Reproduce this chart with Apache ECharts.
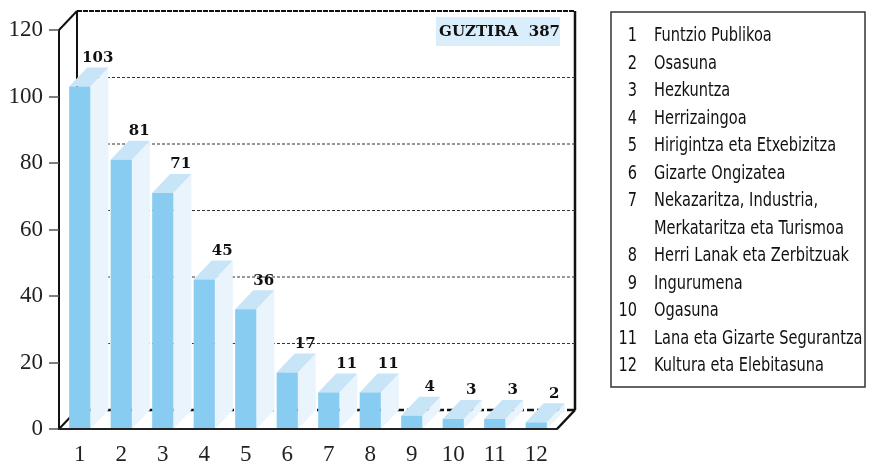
<!DOCTYPE html>
<html>
<head>
<meta charset="utf-8">
<script src="https://cdn.jsdelivr.net/npm/echarts@6/dist/echarts.min.js"></script>
<style>
  html, body { margin: 0; padding: 0; background: #fff; }
  #chart { width: 870px; height: 466px; }
</style>
</head>
<body>
<div id="chart"></div>
<script>
// --- data ---
const categories = ["1", "2", "3", "4", "5", "6", "7", "8", "9", "10", "11", "12"];
const values = [103, 81, 71, 45, 36, 17, 11, 11, 4, 3, 3, 2];
const sectorNames = [
  "Funtzio Publikoa",
  "Osasuna",
  "Hezkuntza",
  "Herrizaingoa",
  "Hirigintza eta Etxebizitza",
  "Gizarte Ongizatea",
  "Nekazaritza, Industria,\nMerkataritza eta Turismoa",
  "Herri Lanak eta Zerbitzuak",
  "Ingurumena",
  "Ogasuna",
  "Lana eta Gizarte Segurantza",
  "Kultura eta Elebitasuna",
];
const gridValues = [20, 40, 60, 80, 100];
const Y_MAX = 120;
const totalLabel = "GUZTIRA";

// --- 3D look ---
const DX = 18, DY = -19;
const FRONT = "#88ccf2", TOP = "#c8e4f7", SIDE = "#eaf4fc";
const SERIF = '"Liberation Serif", "DejaVu Serif", serif';
const NARROW = '"DejaVu Sans Condensed", "Liberation Sans Narrow", sans-serif';
const BOLD_SERIF = '"DejaVu Serif", serif';

const chart = echarts.init(document.getElementById("chart"));

// back wall, floor and the left/right depth edges
function renderFrame(params, api) {
  const cs = params.coordSys;
  const L = cs.x, R = cs.x + cs.width, T = cs.y, B = cs.y + cs.height;
  const blk = (w, dash) => ({ stroke: "#111", lineWidth: w, lineDash: dash || null });
  const line = (x1, y1, x2, y2, style) => ({ type: "line", shape: { x1, y1, x2, y2 }, style });
  return {
    type: "group",
    children: [
      line(L + DX, B + DY, R + DX, B + DY, blk(2.5, [7, 3])),
      line(L + DX, B + DY, L + DX, T + DY, blk(2)),
      line(L + DX, T + DY, R + DX, T + DY, blk(2, [5, 1])),
      line(R + DX, T + DY, R + DX, B + DY, blk(2.5)),
      line(L, T, L + DX, T + DY, blk(2)),
      line(L, B, L + DX, B + DY, blk(2)),
      line(R, B, R + DX, B + DY, blk(2.5)),
    ],
  };
}

// dotted gridlines drawn on the back wall
function renderGrid(params, api) {
  const cs = params.coordSys;
  const y = api.coord([0, api.value(1)])[1] + DY;
  return {
    type: "line",
    shape: { x1: cs.x + DX, y1: y, x2: cs.x + cs.width + DX, y2: y },
    style: { stroke: "#333", lineWidth: 1, lineDash: [3, 2] },
  };
}

function renderBar(params, api) {
  const x = api.value(0), v = api.value(1);
  const top = api.coord([x, v]);
  const base = api.coord([x, 0]);
  const w = api.size([1, 0])[0] * 0.51;
  const x0 = top[0] - w / 2, x1 = top[0] + w / 2;
  const yT = top[1], yB = base[1];
  return {
    type: "group",
    children: [
      { type: "polygon", shape: { points: [[x1, yT], [x1 + DX, yT + DY], [x1 + DX, yB + DY], [x1, yB]] }, style: { fill: SIDE } },
      { type: "polygon", shape: { points: [[x0, yT], [x0 + DX, yT + DY], [x1 + DX, yT + DY], [x1, yT]] }, style: { fill: TOP } },
      { type: "rect", shape: { x: x0, y: yT, width: w, height: yB - yT }, style: { fill: FRONT } },
      {
        type: "text", x: top[0] + DX, y: yT + DY - 2,
        style: {
          text: String(v), align: "center", verticalAlign: "bottom",
          fontFamily: BOLD_SERIF, fontWeight: "bold", fontSize: 15, fill: "#111",
        },
      },
    ],
  };
}

// legend box on the right
const legendEls = [];
let row = 0;
const legendText = (x, y, text, align) => ({
  type: "text", x, y, scaleX: 0.81, z: 11,
  style: { text, align, verticalAlign: "middle", fontFamily: NARROW, fontSize: 20, fill: "#111" },
});
sectorNames.forEach((name, i) => {
  legendEls.push(legendText(637, 36 + row * 27.5, categories[i], "right"));
  name.split("\n").forEach((part) => {
    legendEls.push(legendText(654, 36 + row * 27.5, part, "left"));
    row++;
  });
});

const total = values.reduce((a, b) => a + b, 0);

chart.setOption({
  animation: false,
  grid: { left: 59, right: 313, top: 30, bottom: 34 },
  xAxis: {
    type: "category",
    data: categories,
    boundaryGap: true,
    axisLine: { lineStyle: { color: "#222", width: 2 } },
    axisTick: { length: 7, lineStyle: { color: "#111", width: 1.5 } },
    axisLabel: { margin: 14, fontFamily: SERIF, fontSize: 23, color: "#222" },
    z: 5,
  },
  yAxis: {
    type: "value",
    min: 0,
    max: Y_MAX,
    interval: 20,
    splitLine: { show: false },
    axisLine: { show: true, lineStyle: { color: "#111", width: 2 } },
    axisTick: { show: true, length: 10, lineStyle: { color: "#555", width: 1.5 } },
    axisLabel: { margin: 16, fontFamily: SERIF, fontSize: 23, color: "#222" },
  },
  series: [
    { type: "custom", renderItem: renderFrame, data: [[0, Y_MAX]], z: 1, silent: true },
    { type: "custom", renderItem: renderGrid, data: gridValues.map((v) => [0, v]), z: 1, silent: true },
    { type: "custom", renderItem: renderBar, data: values.map((v, i) => [i, v]), z: 3 },
  ],
  graphic: [
    { type: "rect", shape: { x: 436, y: 17, width: 124, height: 29 }, style: { fill: "#d9edfb" }, z: 10 },
    {
      type: "text", x: 560, y: 32, z: 11,
      style: {
        text: totalLabel + "  " + total, align: "right", verticalAlign: "middle",
        fontFamily: BOLD_SERIF, fontWeight: "bold", fontSize: 15, fill: "#111",
      },
    },
    { type: "rect", shape: { x: 611, y: 12, width: 254, height: 375 }, style: { fill: "none", stroke: "#333", lineWidth: 1.5 }, z: 10 },
    ...legendEls,
  ],
});
</script>
</body>
</html>
